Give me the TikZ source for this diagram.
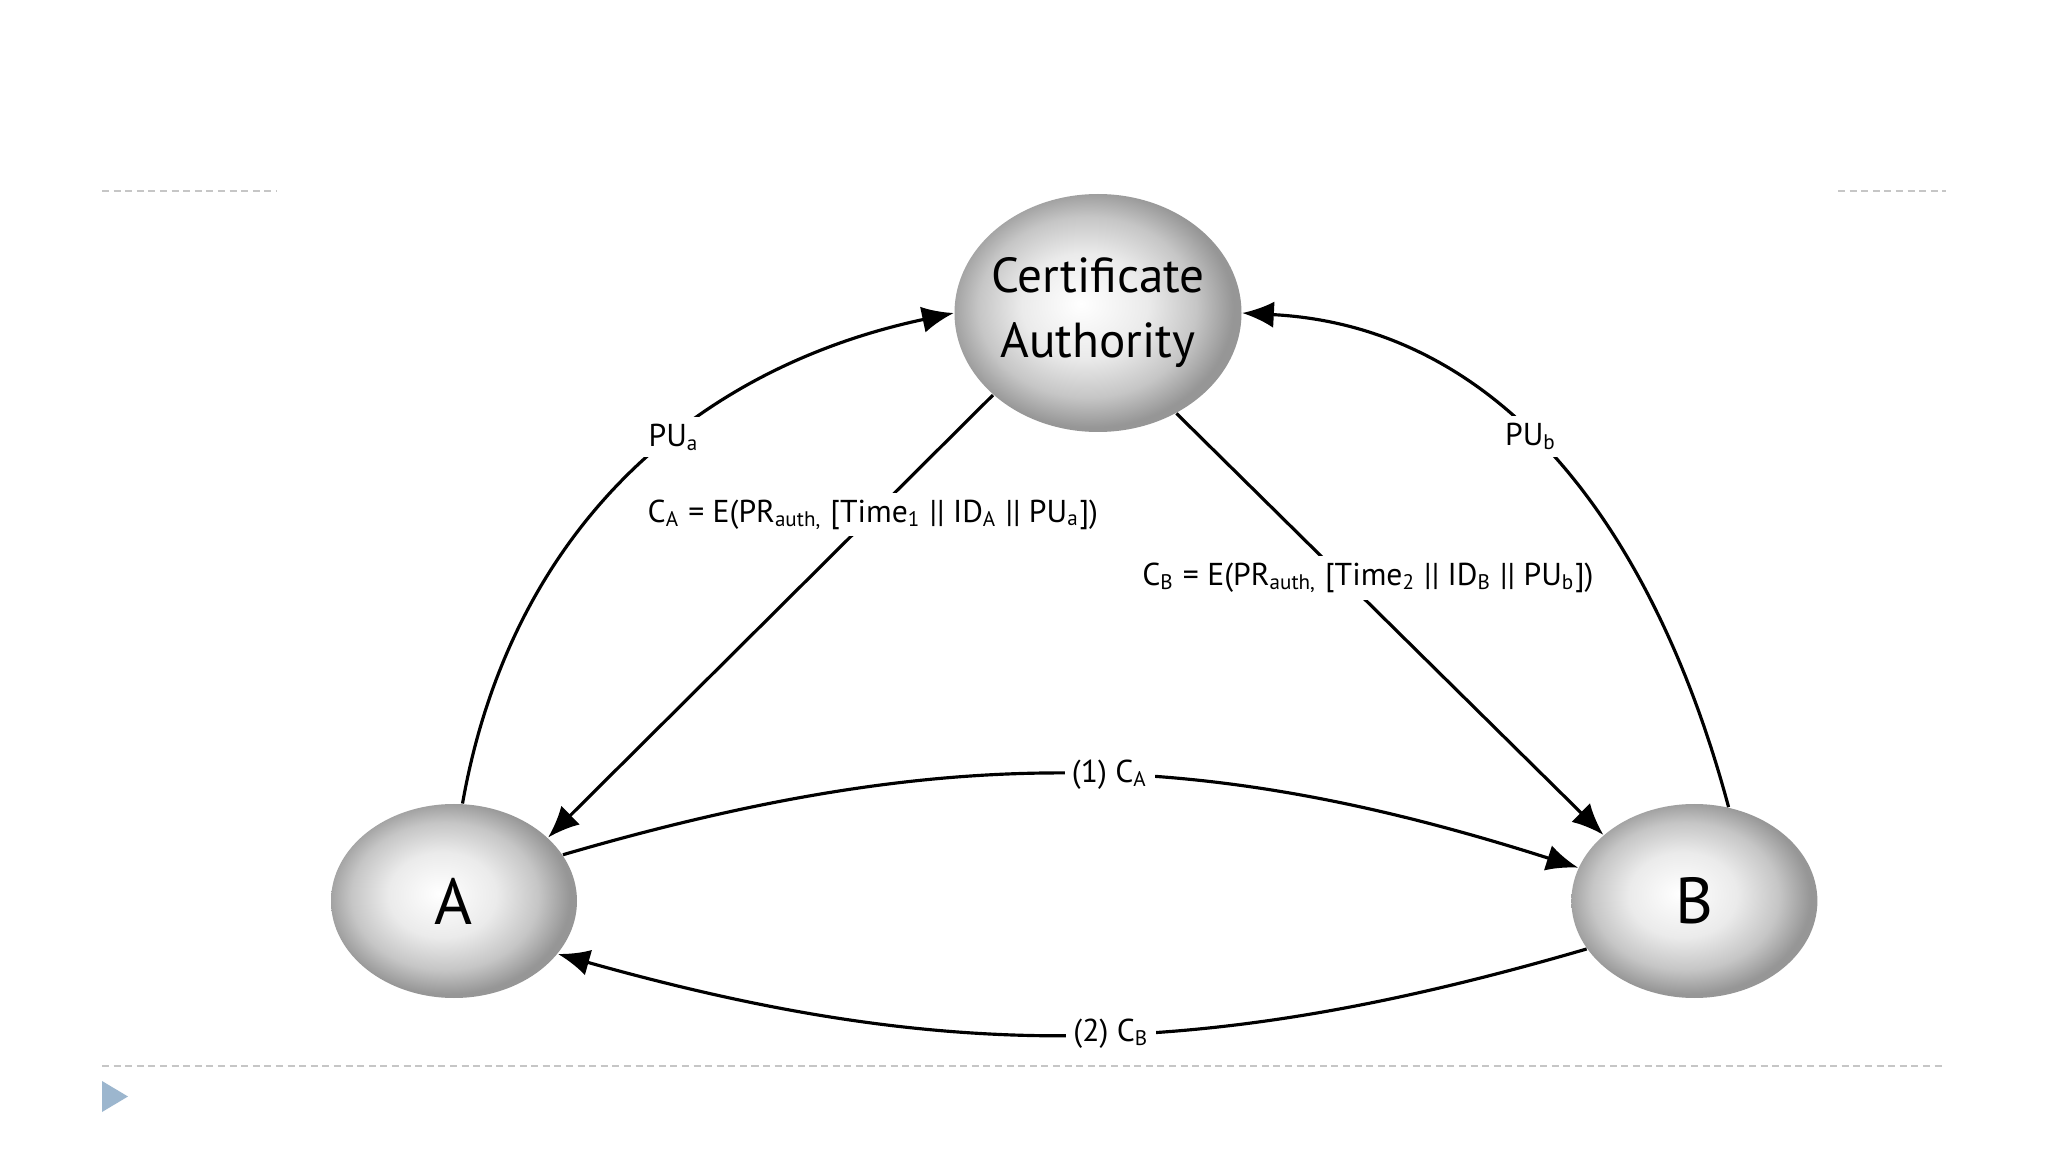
\documentclass[tikz,border=0pt]{standalone}
\usepackage{fontspec}
\setmainfont{PT Sans}
\usetikzlibrary{positioning, arrows.meta, shapes.geometric}
\usepackage{xcolor}

\definecolor{slideblue}{RGB}{156,182,206}
\pgfdeclareradialshading{ballshade}{\pgfpoint{-3bp}{2bp}}{color(0bp)=(white); color(11bp)=(gray!16); color(19bp)=(gray!45); color(25bp)=(gray!82); color(50bp)=(gray!82)}

\begin{document}
\begin{tikzpicture}[
    party/.style={ellipse, shading=ballshade, minimum width=2.46cm, minimum height=1.94cm, inner sep=0pt, font=\fontsize{18.5}{22}\selectfont},
    authority/.style={party, minimum width=2.87cm, minimum height=2.38cm, inner xsep=-1mm, align=center, font=\fontsize{14}{18.5}\selectfont},
    msg/.style={-{Latex[length=9pt, width=7.5pt]}, line width=0.9pt},
    lbl/.style={fill=white, inner sep=2pt, font=\fontsize{9}{11}\selectfont},
    rule/.style={gray!45, line width=0.6pt, dash pattern=on 2pt off 1.3pt}
]
    \useasboundingbox[fill=white] (0,0) rectangle (20.48,-11.52);

    \draw[rule] (1.02,-1.91) -- (2.77,-1.91);
    \draw[rule] (18.38,-1.91) -- (19.46,-1.91);
    \draw[rule] (1.02,-10.66) -- (19.46,-10.66);
    \fill[slideblue] (1.02,-10.81) -- (1.28,-10.965) -- (1.02,-11.12) -- cycle;

    \node[authority] (ca) at (10.98,-3.13) {Certificate\\Authority};
    \node[party] (a) at (4.54,-9.01) {A};
    \node[party] (b) [right=9.93cm of a] {B};

    \draw[msg] (a.85) to[out=80, in=192] node[lbl, pos=0.59] {PU\textsubscript{a}} (ca.west);
    \draw[msg] (b.70) to[out=105, in=-3] node[lbl, pos=0.56] {PU\textsubscript{b}} (ca.east);

    \draw[msg] (ca.218) -- node[lbl, pos=0.27] {C\textsubscript{A} = E(PR\textsubscript{auth,} [Time\textsubscript{1} || ID\textsubscript{A} || PU\textsubscript{a}])} (a.34);
    \draw[msg] (ca.-52) -- node[lbl, pos=0.39, xshift=2.5mm] {C\textsubscript{B} = E(PR\textsubscript{auth,} [Time\textsubscript{2} || ID\textsubscript{B} || PU\textsubscript{b}])} (b.144);

    \draw[msg] (a.23) to[bend left=17] node[lbl, pos=0.54] {(1) C\textsubscript{A}} (b.164);
    \draw[msg] (b.204) to[bend left=16] node[lbl, pos=0.46] {(2) C\textsubscript{B}} (a.-27);
\end{tikzpicture}
\end{document}
